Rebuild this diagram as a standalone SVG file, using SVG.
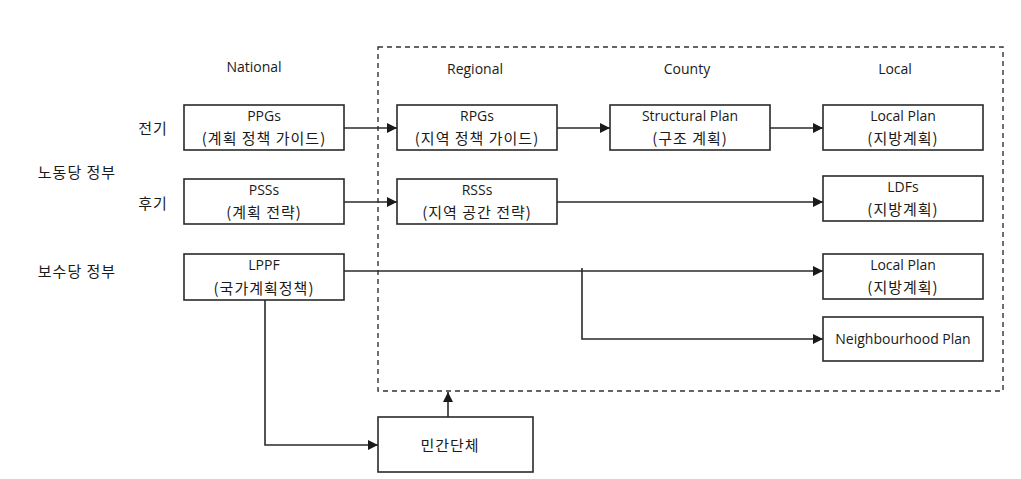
<svg xmlns="http://www.w3.org/2000/svg" width="1021" height="479" viewBox="0 0 1021 479">
<style>
.bx{fill:#fff;stroke:#2a2a2a;stroke-width:1.6}
.t{font-family:"Open Sans","Noto Sans CJK KR",sans-serif;font-size:14px;fill:#1a1a1a;text-anchor:middle}
.k{font-family:"Noto Sans CJK KR","Open Sans",sans-serif;font-size:15px;letter-spacing:1px;fill:#1a1a1a;text-anchor:middle}
.ln{fill:none;stroke:#2a2a2a;stroke-width:1.6}
</style>
<defs>
<marker id="ah" viewBox="0 0 10 10" refX="10" refY="5" markerWidth="10" markerHeight="10" markerUnits="userSpaceOnUse" orient="auto"><path d="M0,0 L10,5 L0,10 z" fill="#1a1a1a"/></marker>
</defs>
<rect width="1021" height="479" fill="#fff"/>
<rect id="region" x="378" y="47" width="625" height="344" fill="none" stroke="#333" stroke-width="1.4" stroke-dasharray="5,4"/>
<g id="headers">
<text class="t" x="254" y="72">National</text>
<text class="t" x="475" y="74">Regional</text>
<text class="t" x="687" y="74">County</text>
<text class="t" x="895" y="74">Local</text>
<text class="k" x="153" y="134">전기</text>
<text class="k" x="153" y="209">후기</text>
<text class="k" x="77" y="178">노동당 정부</text>
<text class="k" x="77" y="277">보수당 정부</text>
</g>
<g id="connectors">
<line class="ln" x1="344" y1="128" x2="397" y2="128" marker-end="url(#ah)"/>
<line class="ln" x1="557" y1="128" x2="610" y2="128" marker-end="url(#ah)"/>
<line class="ln" x1="770" y1="128" x2="823" y2="128" marker-end="url(#ah)"/>
<line class="ln" x1="344" y1="202" x2="397" y2="202" marker-end="url(#ah)"/>
<line class="ln" x1="557" y1="202" x2="823" y2="202" marker-end="url(#ah)"/>
<line class="ln" x1="344" y1="271" x2="823" y2="271" marker-end="url(#ah)"/>
<polyline class="ln" points="582,268 582,339 823,339" marker-end="url(#ah)"/>
<polyline class="ln" points="265,300 265,445 378,445" marker-end="url(#ah)"/>
<line class="ln" x1="448" y1="417" x2="448" y2="392" marker-end="url(#ah)"/>
</g>
<g id="ppgs"><rect class="bx" x="184" y="105" width="160" height="45"/><text class="t" x="264" y="121">PPGs</text><text class="k" x="264" y="144">(계획 정책 가이드)</text></g>
<g id="rpgs"><rect class="bx" x="397" y="105" width="160" height="45"/><text class="t" x="477" y="121">RPGs</text><text class="k" x="477" y="144">(지역 정책 가이드)</text></g>
<g id="structural"><rect class="bx" x="610" y="105" width="160" height="45"/><text class="t" x="690" y="121">Structural Plan</text><text class="k" x="690" y="144">(구조 계획)</text></g>
<g id="localplan1"><rect class="bx" x="823" y="105" width="160" height="45"/><text class="t" x="903" y="121">Local Plan</text><text class="k" x="903" y="144">(지방계획)</text></g>
<g id="psss"><rect class="bx" x="184" y="179" width="160" height="45"/><text class="t" x="264" y="195">PSSs</text><text class="k" x="264" y="218">(계획 전략)</text></g>
<g id="rsss"><rect class="bx" x="397" y="179" width="160" height="45"/><text class="t" x="477" y="195">RSSs</text><text class="k" x="477" y="218">(지역 공간 전략)</text></g>
<g id="ldfs"><rect class="bx" x="823" y="176" width="160" height="45"/><text class="t" x="903" y="192">LDFs</text><text class="k" x="903" y="215">(지방계획)</text></g>
<g id="lppf"><rect class="bx" x="184" y="254" width="160" height="46"/><text class="t" x="264" y="270">LPPF</text><text class="k" x="264" y="294">(국가계획정책)</text></g>
<g id="localplan2"><rect class="bx" x="823" y="254" width="160" height="45"/><text class="t" x="903" y="270">Local Plan</text><text class="k" x="903" y="293">(지방계획)</text></g>
<g id="neighbourhood"><rect class="bx" x="823" y="317" width="160" height="44"/><text class="t" x="903" y="344">Neighbourhood Plan</text></g>
<g id="private"><rect class="bx" x="378" y="417" width="155" height="55"/><text class="k" x="450" y="451">민간단체</text></g>
</svg>
